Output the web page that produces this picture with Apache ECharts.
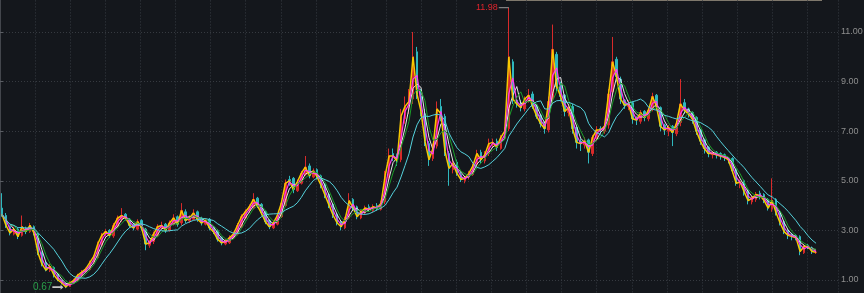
<!DOCTYPE html>
<html>
<head>
<meta charset="utf-8">
<script src="https://cdn.jsdelivr.net/npm/echarts@6/dist/echarts.min.js"></script>
<style>
html,body{margin:0;padding:0;background:#14171c;}
#chart{width:864px;height:293px;}
</style>
</head>
<body>
<div id="chart"></div>
<script>
// Price data (one candle per ~4px column)
const opens = [
3.9,3.6,3.15,2.85,3.05,2.8,3.1,2.95,3.15,2.85,
2.1,1.7,1.38,1.5,1.22,0.98,0.86,0.74,0.9,1.0,
1.18,1.35,1.42,1.72,1.9,2.4,2.85,3.0,2.78,3.15,
3.45,3.65,3.45,3.25,3.05,3.4,3.05,2.4,2.55,2.8,
3.1,3.25,3.0,3.25,3.55,3.3,3.75,3.38,3.45,3.75,
3.5,3.25,3.45,3.1,2.98,2.7,2.45,2.5,2.72,2.85,
3.15,3.5,3.8,3.9,4.3,4.05,3.75,3.4,3.1,3.25,
3.55,4.0,5.05,5.1,4.6,4.9,5.25,5.6,5.15,5.45,
5.2,4.85,4.45,4.05,3.65,3.35,3.1,3.5,4.25,3.95,
3.5,3.7,3.95,3.8,4.0,3.85,4.15,5.1,6.1,6.05,
5.85,7.5,8.1,8.3,10.2,8.4,7.7,6.5,5.9,6.4,
8.0,7.6,6.1,5.45,5.75,5.25,5.0,5.15,5.25,5.65,
6.15,5.8,6.1,6.45,6.6,6.3,6.8,7.1,9.8,8.25,
8.15,7.9,8.25,8.5,8.05,7.65,7.35,7.05,8.3,10.1,
8.85,8.45,7.75,8.0,7.15,6.6,6.45,6.65,6.1,6.7,
7.1,7.0,7.25,8.6,9.9,9.1,8.25,8.0,8.15,7.55,
7.4,7.8,7.5,7.9,8.45,7.95,7.25,7.0,7.2,6.9,
7.35,8.15,7.9,7.75,7.55,7.05,6.65,6.35,6.05,6.15,
6.1,6.05,5.9,5.9,5.45,4.85,5.0,4.6,4.15,4.25,
4.5,4.45,4.25,3.85,4.25,3.75,3.35,3.0,2.85,2.8,
2.75,2.1,2.4,2.3,2.1];
const closes = [
3.65,3.2,2.9,3.05,2.75,3.15,2.95,3.2,2.9,2.1,
1.65,1.4,1.55,1.2,1.0,0.88,0.72,0.88,0.98,1.2,
1.32,1.45,1.7,1.95,2.45,2.8,2.95,2.8,3.2,3.5,
3.6,3.5,3.2,3.1,3.35,3.1,2.45,2.5,2.85,3.15,
3.2,3.0,3.3,3.5,3.25,3.8,3.4,3.5,3.7,3.45,
3.3,3.4,3.1,2.95,2.65,2.5,2.55,2.7,2.85,3.2,
3.55,3.75,3.95,4.25,4.0,3.7,3.35,3.15,3.3,3.6,
4.1,4.9,5.0,4.65,4.95,5.3,5.55,5.2,5.4,5.15,
4.8,4.4,4.0,3.6,3.3,3.15,3.45,4.2,3.9,3.55,
3.75,3.9,3.85,3.95,3.9,4.1,5.2,6.0,6.0,5.8,
7.6,8.0,8.2,10.0,8.5,7.8,6.6,5.85,6.3,7.9,
7.7,6.2,5.5,5.7,5.3,5.05,5.1,5.3,5.6,6.1,
5.85,6.05,6.5,6.55,6.35,6.75,7.0,10.0,8.3,8.1,
7.95,8.3,8.45,8.0,7.6,7.3,7.1,8.2,10.3,8.8,
8.4,7.8,7.95,7.1,6.55,6.5,6.6,6.15,6.75,7.05,
7.05,7.2,8.5,9.8,9.2,8.3,8.05,8.1,7.5,7.45,
7.75,7.55,7.85,8.4,8.0,7.2,7.05,7.15,6.95,7.3,
8.1,7.85,7.7,7.5,7.0,6.6,6.3,6.1,6.1,6.05,
6.0,5.95,5.85,5.4,4.9,4.95,4.55,4.2,4.3,4.45,
4.4,4.2,3.9,4.2,3.7,3.3,2.95,2.8,2.75,2.7,
2.15,2.35,2.35,2.15,2.12];
const highs = [
4.5,3.7,3.2,3.15,3.1,3.6,3.15,3.3,3.2,2.9,
2.15,1.75,1.65,1.55,1.25,1.02,0.9,0.95,1.05,1.25,
1.4,1.5,1.78,2.0,2.55,2.9,3.05,3.05,3.3,3.6,
3.9,3.7,3.5,3.3,3.45,3.45,3.1,2.6,2.95,3.25,
3.35,3.3,3.4,3.65,3.6,4.1,3.85,3.6,3.85,3.8,
3.55,3.5,3.5,3.15,3.05,2.75,2.65,2.8,2.95,3.3,
3.65,3.85,4.05,4.5,4.35,4.1,3.8,3.45,3.4,3.7,
4.2,5.05,5.2,5.15,5.05,5.4,6.0,5.7,5.5,5.5,
5.25,4.9,4.5,4.1,3.7,3.4,3.55,4.5,4.3,4.0,
3.85,4.0,4.05,4.05,4.1,4.2,5.4,6.3,6.3,6.1,
7.9,8.4,8.7,11.0,10.4,8.7,7.9,6.6,6.5,8.2,
8.3,7.7,6.2,5.85,5.85,5.35,5.2,5.4,5.7,6.25,
6.25,6.2,6.7,6.7,6.7,6.85,7.15,11.98,9.9,8.4,
8.25,8.4,8.7,8.6,8.1,7.7,7.4,8.4,11.3,10.2,
9.0,8.5,8.1,8.1,7.2,6.7,6.75,6.7,6.85,7.2,
7.2,7.3,8.7,10.8,10.0,9.2,8.3,8.25,8.2,7.6,
7.85,7.85,7.95,8.55,8.5,8.0,7.3,7.25,7.25,7.4,
9.1,8.3,7.95,7.8,7.6,7.1,6.7,6.4,6.2,6.2,
6.15,6.1,5.95,5.95,5.5,5.05,5.05,4.65,4.4,4.55,
4.6,4.5,4.3,5.1,4.3,3.8,3.4,3.05,2.9,2.85,
2.8,2.45,2.45,2.35,2.2];
const lows = [
3.55,3.1,2.8,2.8,2.65,2.75,2.85,2.9,2.8,2.0,
1.55,1.35,1.32,1.1,0.95,0.82,0.67,0.72,0.85,0.95,
1.12,1.28,1.38,1.65,1.85,2.35,2.75,2.7,2.7,3.1,
3.35,3.4,3.1,3.0,3.0,3.0,2.2,2.3,2.45,2.75,
3.05,2.9,2.95,3.2,3.15,3.2,3.3,3.3,3.4,3.35,
3.2,3.2,3.0,2.85,2.55,2.4,2.4,2.45,2.65,2.8,
3.1,3.45,3.7,3.85,3.9,3.6,3.25,3.05,3.05,3.2,
3.5,3.95,4.8,4.5,4.55,4.85,5.2,5.1,5.1,5.05,
4.7,4.3,3.9,3.5,3.2,3.0,3.05,3.45,3.8,3.45,
3.45,3.65,3.75,3.75,3.8,3.8,4.05,5.0,5.8,5.6,
5.75,7.3,7.7,8.1,8.3,7.6,6.4,5.6,5.8,6.3,
7.4,6.0,4.8,5.3,5.2,4.95,4.9,5.05,5.2,5.55,
5.7,5.7,6.0,6.35,6.2,6.25,6.7,7.0,8.1,7.95,
7.8,7.8,8.15,7.9,7.5,7.15,6.9,6.95,8.1,8.6,
8.2,7.6,7.6,6.9,6.3,6.2,6.3,5.7,6.0,6.6,
6.9,6.9,7.1,8.4,9.0,8.1,7.9,7.85,7.3,7.25,
7.3,7.4,7.4,7.8,7.85,7.0,6.85,6.8,6.4,6.8,
7.2,7.7,7.55,7.3,6.85,6.45,6.1,5.95,5.9,5.9,
5.85,5.8,5.7,5.3,4.8,4.7,4.4,4.05,4.05,4.15,
4.25,4.1,3.8,3.75,3.6,3.2,2.85,2.65,2.6,2.6,
2.0,2.05,2.25,2.05,2.05];
// Right-axis tick labels
const yTickValues = [1, 3, 5, 7, 9, 11];
// Moving-average windows (in candles of this chart), drawn bottom to top
const maWindows = [3, 1, 2, 4, 9];
const maColors = ['#e6e6e6', '#f7c800', '#ff3cf0', '#1c9e2a', '#55d2dc'];
const maWidths = [1, 1.5, 1.2, 1, 1];

const padCount = 5;
const categories = closes.map((_, i) => String(i));
for (let k = 0; k < padCount; k++) categories.push('');

const candleData = closes.map((c, i) => [opens[i], c, lows[i], highs[i]]);

function movingAverage(n) {
  return closes.map((_, i) => {
    const s = Math.max(0, i - n + 1);
    let sum = 0;
    for (let k = s; k <= i; k++) sum += closes[k];
    return +(sum / (i - s + 1)).toFixed(3);
  });
}

const lineSeries = maWindows.map((n, j) => ({
  type: 'line',
  name: 'MA' + n,
  data: movingAverage(n),
  showSymbol: false,
  symbol: 'none',
  smooth: false,
  lineStyle: { width: maWidths[j], color: maColors[j] },
  itemStyle: { color: maColors[j] },
  z: 3 + j,
  silent: true
}));

const chart = echarts.init(document.getElementById('chart'), null, { renderer: 'canvas' });
chart.setOption({
  animation: false,
  backgroundColor: '#14171c',
  grid: { left: 0, right: 26, top: -17.6, bottom: -36.6, containLabel: false, outerBoundsMode: 'none' },
  xAxis: [
    {
      type: 'category', data: categories, boundaryGap: true,
      axisLine: { show: false }, axisTick: { show: false }, axisLabel: { show: false },
      splitLine: { show: false }
    },
    {
      type: 'value', min: 0, max: 838 / 35.1, interval: 1,
      axisLine: { show: false }, axisTick: { show: false }, axisLabel: { show: false },
      splitLine: { show: true, lineStyle: { color: '#363a40', type: [1, 2], width: 1 } }
    }
  ],
  yAxis: {
    type: 'value', position: 'right', min: -1, max: 13, interval: 2,
    axisLine: { show: true, lineStyle: { color: '#43464c', width: 1 } },
    axisTick: { show: true, length: 3, lineStyle: { color: '#5a5d63' } },
    axisLabel: {
      color: '#8e8e8e', fontSize: 9, margin: 3,
      fontFamily: 'Liberation Sans, Arial, sans-serif',
      formatter: v => yTickValues.indexOf(v) >= 0 ? v.toFixed(2) : ''
    },
    splitLine: { show: true, lineStyle: { color: '#363a40', type: [1, 2], width: 1 } }
  },
  graphic: [
    { type: 'line', shape: { x1: 506, y1: 0.5, x2: 822, y2: 0.5 }, style: { stroke: '#7f786c', lineWidth: 1 }, silent: true }
  ],
  series: [
    {
      type: 'candlestick',
      data: candleData,
      xAxisIndex: 0,
      barWidth: 2,
      itemStyle: {
        color: '#d82a2a', color0: '#2fb8be',
        borderColor: '#d82a2a', borderColor0: '#2fb8be', borderWidth: 1
      },
      z: 2,
      markPoint: {
        silent: true,
        data: [
          {
            type: 'max', valueDim: 'highest',
            symbol: 'rect', symbolSize: [10, 1], symbolOffset: [-5, 0],
            itemStyle: { color: '#9a9a9a' },
            label: {
              show: true, position: 'left', distance: 1, color: '#e0242c', fontSize: 9,
              fontFamily: 'Liberation Sans, Arial, sans-serif',
              formatter: p => Number(p.value).toFixed(2)
            }
          },
          {
            type: 'min', valueDim: 'lowest',
            symbol: 'path://M0,4 L12,4 L12,2 L16,5 L12,8 L12,6 L0,6 Z', symbolSize: [11, 5], symbolOffset: [-8, -1],
            itemStyle: { color: '#c8c8c8' },
            label: {
              show: true, position: 'left', distance: 0, color: '#2aa04a', fontSize: 10,
              fontFamily: 'Liberation Sans, Arial, sans-serif',
              formatter: p => Number(p.value).toFixed(2)
            }
          }
        ]
      }
    }
  ].concat(lineSeries)
});
</script>
</body>
</html>
